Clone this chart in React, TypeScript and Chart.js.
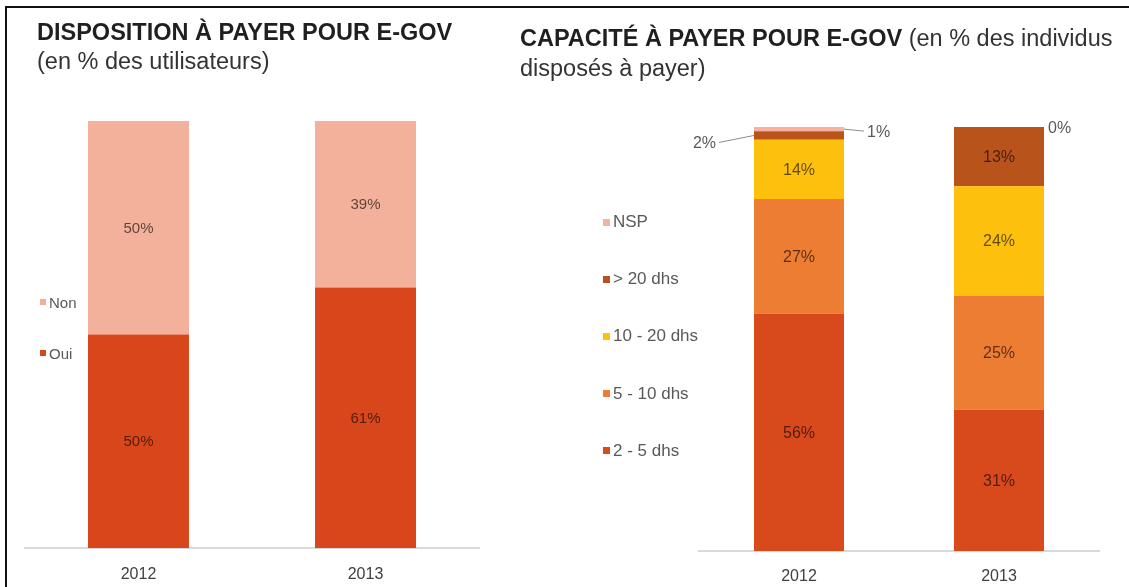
import React, { useEffect, useRef } from 'react';
import { Chart, registerables } from 'chart.js';

Chart.register(...registerables);

// ---------- DATA ----------
const years = ['2012', '2013'];

// Left chart: Disposition à payer (en % des utilisateurs)
const leftSeriesNames = ['Oui', 'Non'];
const ouiValues = [50, 61];
const nonValues = [50, 39];

// Right chart: Capacité à payer (en % des individus disposés à payer)
const rightSeriesNames = ['2 - 5 dhs', '5 - 10 dhs', '10 - 20 dhs', '> 20 dhs', 'NSP'];
const dhs2to5Values = [56, 31];
const dhs5to10Values = [27, 25];
const dhs10to20Values = [14, 24];
const dhsOver20Values = [2, 13];
const nspValues = [1, 0];

// ---------- STYLE ----------
const leftColors = ['#d8471c', '#f3b09a'];
const rightColors = ['#d84a1b', '#ec7d32', '#fdc00c', '#b8531c', '#f2b3a0'];
const rightOutsideSides = ['right', 'right', 'right', 'left', 'right'];

const FONT = "'Liberation Sans', Arial, Helvetica, sans-serif";

function toShares(series: number[][]) {
  const totals = years.map((_, i) => series.reduce((s, arr) => s + arr[i], 0));
  return series.map((arr) => arr.map((v, i) => (v / totals[i]) * 100));
}

function makeLabelPlugin(cfg: { font: string; minInside: number; sides?: string[] }) {
  return {
    id: 'segLabels',
    afterDatasetsDraw(chart: any) {
      const ctx = chart.ctx;
      ctx.save();
      chart.data.datasets.forEach((ds: any, di: number) => {
        const meta = chart.getDatasetMeta(di);
        meta.data.forEach((el: any, i: number) => {
          const raw = ds.rawValues[i];
          const text = raw + '%';
          const p = el.getProps(['x', 'y', 'base', 'width'], true);
          const top = Math.min(p.y, p.base);
          const bottom = Math.max(p.y, p.base);
          const cy = (top + bottom) / 2;
          ctx.font = cfg.font;
          if (raw >= cfg.minInside) {
            ctx.fillStyle = 'rgba(0,0,0,0.62)';
            ctx.textAlign = 'center';
            ctx.textBaseline = 'middle';
            ctx.fillText(text, p.x, cy + 1);
          } else {
            const side = (cfg.sides && cfg.sides[di]) || 'right';
            const dir = side === 'left' ? -1 : 1;
            const edge = p.x + (dir * p.width) / 2;
            ctx.fillStyle = '#595959';
            ctx.textBaseline = 'middle';
            ctx.textAlign = side === 'left' ? 'right' : 'left';
            if (raw > 0) {
              const ex = edge + dir * (side === 'left' ? 35 : 20);
              const ey = cy + (side === 'left' ? 7 : 2);
              ctx.strokeStyle = '#8c8c8c';
              ctx.lineWidth = 1;
              ctx.beginPath();
              ctx.moveTo(edge, cy);
              ctx.lineTo(ex, ey);
              ctx.stroke();
              ctx.fillText(text, ex + dir * 3, ey + 1);
            } else {
              ctx.fillText(text, edge + dir * 4, cy + 2);
            }
          }
        });
      });
      ctx.restore();
    },
  };
}

function buildChart(
  canvas: HTMLCanvasElement,
  opts: {
    names: string[];
    values: number[][];
    colors: string[];
    barPct: number;
    padding: { left: number; right: number; top: number };
    axisHeight: number;
    tickPadding: number;
    labelFont: string;
    sides?: string[];
  }
) {
  const shares = toShares(opts.values);
  return new Chart(canvas, {
    type: 'bar',
    data: {
      labels: years,
      datasets: opts.names.map((name, k) => ({
        label: name,
        data: shares[k],
        rawValues: opts.values[k],
        backgroundColor: opts.colors[k],
        borderWidth: 0,
        barPercentage: opts.barPct,
        categoryPercentage: 1,
      })) as any,
    },
    options: {
      responsive: false,
      animation: false,
      devicePixelRatio: 1,
      layout: { padding: { ...opts.padding, bottom: 0 } },
      plugins: {
        legend: { display: false },
        tooltip: { enabled: false },
        title: { display: false },
      },
      scales: {
        x: {
          stacked: true,
          grid: { display: false, drawTicks: false },
          border: { display: true, color: '#d9d9d9', width: 2 },
          ticks: {
            color: '#404040',
            padding: opts.tickPadding,
            font: { family: FONT, size: 16 },
          },
          afterFit: (scale: any) => {
            scale.height = opts.axisHeight;
          },
        },
        y: { stacked: true, display: false, min: 0, max: 100 },
      },
    },
    plugins: [makeLabelPlugin({ font: opts.labelFont, minInside: 5, sides: opts.sides })],
  } as any);
}

function Legend({
  names,
  colors,
  x,
  y0,
  step,
  fontSize,
  box,
}: {
  names: string[];
  colors: string[];
  x: number;
  y0: number;
  step: number;
  fontSize: number;
  box: number;
}) {
  const items = names.map((n, i) => ({ n, c: colors[i] })).reverse();
  return (
    <>
      {items.map((it, i) => (
        <div
          key={it.n}
          style={{
            position: 'absolute',
            left: x,
            top: y0 + i * step - 10,
            height: 20,
            display: 'flex',
            alignItems: 'center',
            fontFamily: FONT,
            fontSize,
            color: '#595959',
            whiteSpace: 'pre',
          }}
        >
          <span
            style={{
              display: 'inline-block',
              width: box,
              height: box,
              background: it.c,
              marginRight: 3,
            }}
          />
          <span>{it.n}</span>
        </div>
      ))}
    </>
  );
}

export default function App() {
  const leftRef = useRef<HTMLCanvasElement>(null);
  const rightRef = useRef<HTMLCanvasElement>(null);

  useEffect(() => {
    document.body.style.margin = '0';
    const c1 = buildChart(leftRef.current!, {
      names: leftSeriesNames,
      values: [ouiValues, nonValues],
      colors: leftColors,
      barPct: 0.445,
      padding: { left: 25, right: 61, top: 121 },
      axisHeight: 39,
      tickPadding: 17,
      labelFont: `15px ${FONT}`,
    });
    const c2 = buildChart(rightRef.current!, {
      names: rightSeriesNames,
      values: [dhs2to5Values, dhs5to10Values, dhs10to20Values, dhsOver20Values, nspValues],
      colors: rightColors,
      barPct: 0.45,
      padding: { left: 139, right: 30, top: 127 },
      axisHeight: 36,
      tickPadding: 16,
      labelFont: `16px ${FONT}`,
      sides: rightOutsideSides,
    });
    return () => {
      c1.destroy();
      c2.destroy();
    };
  }, []);

  const titleBase: React.CSSProperties = {
    position: 'absolute',
    fontFamily: FONT,
    fontSize: 23.5,
    lineHeight: '23px',
    color: '#1f1f1f',
    whiteSpace: 'pre',
  };

  return (
    <div
      style={{
        position: 'fixed',
        left: 0,
        top: 0,
        width: 1129,
        height: 587,
        background: '#fff',
        overflow: 'hidden',
      }}
    >
      <div
        style={{
          position: 'absolute',
          left: 5,
          top: 6,
          width: 1130,
          height: 600,
          borderTop: '2px solid #111',
          borderLeft: '2px solid #111',
        }}
      />
      <canvas
        ref={leftRef}
        width={540}
        height={587}
        style={{ position: 'absolute', left: 0, top: 0, display: 'block' }}
      />
      <canvas
        ref={rightRef}
        width={569}
        height={587}
        style={{ position: 'absolute', left: 560, top: 0, display: 'block' }}
      />
      <div style={{ ...titleBase, left: 37, top: 21, fontWeight: 'bold' }}>
        DISPOSITION À PAYER POUR E-GOV
      </div>
      <div style={{ ...titleBase, left: 37, top: 50, color: '#333' }}>(en % des utilisateurs)</div>
      <div style={{ ...titleBase, left: 520, top: 27 }}>
        <b style={{ color: '#1f1f1f' }}>CAPACITÉ À PAYER POUR E-GOV</b>
        <span style={{ color: '#333' }}> (en % des individus</span>
      </div>
      <div style={{ ...titleBase, left: 520, top: 57, color: '#333' }}>disposés à payer)</div>
      <Legend names={leftSeriesNames} colors={leftColors} x={40} y0={302} step={51} fontSize={15} box={6} />
      <Legend names={rightSeriesNames} colors={rightColors} x={603} y0={222} step={57.2} fontSize={17} box={7} />
    </div>
  );
}
